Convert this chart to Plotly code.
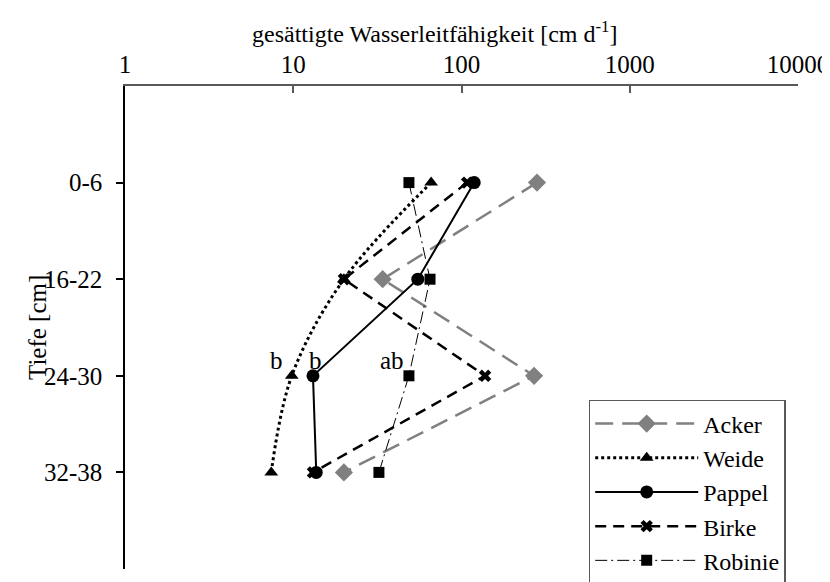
import math
import plotly.graph_objects as go

# Tiefenstufen und gesättigte Wasserleitfähigkeit [cm/d]
tiefe = ['0-6', '16-22', '24-30', '32-38']

acker = [281, 34, 270, 20]
weide = [66, 20, 9.8, 7.4]
pappel = [119, 55, 13.1, 13.7]
birke = [108, 20, 138, 13.1]
robinie = [48.7, 65, 48.7, 32.3]

# Signifikanzbuchstaben bei 24-30
sig_text = ['b', 'b', 'ab']
sig_werte = [weide[2], pappel[2], robinie[2]]
sig_shift = [-15, 3, -17]

font_name = 'Times New Roman, Liberation Serif, serif'
fs = 25

series = [
    ('Acker', acker, dict(color='#808080', width=2.5, dash='18px,9px'),
     dict(symbol='diamond', size=14, color='#808080'), 'linear'),
    ('Weide', weide, dict(color='black', width=3, dash='dot'),
     dict(symbol='triangle-up', size=12, color='black'), 'spline'),
    ('Pappel', pappel, dict(color='black', width=2),
     dict(symbol='circle', size=13, color='black'), 'linear'),
    ('Birke', birke, dict(color='black', width=2.5, dash='11px,7px'),
     dict(symbol='x', size=11, color='black'), 'linear'),
    ('Robinie', robinie, dict(color='black', width=1, dash='12px,4px,2px,4px'),
     dict(symbol='square', size=11, color='black'), 'linear'),
]

fig = go.Figure()
for name, vals, line, marker, shape in series:
    line = dict(line, shape=shape)
    fig.add_trace(go.Scatter(
        x=vals, y=tiefe, name=name, mode='lines+markers',
        line=line, marker=marker,
    ))

for txt, val, dx in zip(sig_text, sig_werte, sig_shift):
    fig.add_annotation(
        x=math.log10(val), y='24-30', text=txt, showarrow=False,
        xshift=dx, yshift=15, font=dict(family=font_name, size=fs, color='black'),
    )

# Achsentitel als Annotationen (y-Titel überlappt wie im Original)
fig.add_annotation(
    xref='paper', yref='paper', x=0, y=0.5, xshift=-103, text='Tiefe [cm]',
    textangle=-90, showarrow=False,
    font=dict(family=font_name, size=fs, color='black'),
)
fig.add_annotation(
    xref='paper', yref='paper', x=0.4606, y=1, yanchor='middle', yshift=54,
    text='gesättigte Wasserleitfähigkeit [cm d<sup>-1</sup>]', showarrow=False,
    font=dict(family=font_name, size=24, color='black'),
)

fig.update_xaxes(
    type='log', side='top', range=[0, 4], automargin=False,
    tickvals=[1, 10, 100, 1000, 10000],
    ticktext=['1', '10', '100', '1000', '10000'],
    showline=True, linecolor='#595959', linewidth=2,
    ticks='inside', ticklen=7, tickcolor='#595959', tickwidth=1.5,
    showgrid=False, zeroline=False, ticklabelstandoff=1,
    tickfont=dict(family=font_name, size=fs, color='black'),
)
fig.update_yaxes(
    type='category', categoryorder='array', categoryarray=tiefe,
    range=[4, -1], automargin=False,
    showline=True, linecolor='black', linewidth=1.5,
    ticks='outside', ticklen=7, tickcolor='black', tickwidth=1.5,
    showgrid=False, zeroline=False, ticklabelstandoff=9,
    tickfont=dict(family=font_name, size=fs, color='black'),
)

# die Seite hat 8px Rand, daher etwas kleiner
fig.update_layout(
    width=822, height=574,
    margin=dict(l=117, r=32, t=78, b=13, autoexpand=False),
    plot_bgcolor='white', paper_bgcolor='white',
    font=dict(family=font_name, size=fs, color='black'),
    legend=dict(
        x=0.689, y=0.35, xanchor='left', yanchor='top',
        bgcolor='white', bordercolor='#595959', borderwidth=1.5,
        font=dict(family=font_name, size=24, color='black'),
        tracegroupgap=0, itemwidth=103,
    ),
)

fig.write_html('out.html')
